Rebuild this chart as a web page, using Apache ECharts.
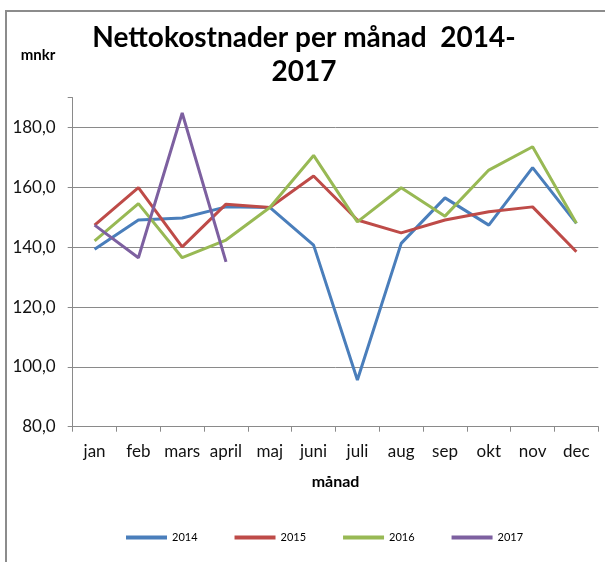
<!DOCTYPE html>
<html>
<head>
<meta charset="utf-8">
<script src="https://cdn.jsdelivr.net/npm/echarts@6/dist/echarts.min.js"></script>
<style>
html,body{margin:0;padding:0;background:#fff;}
#c{width:605px;height:562px;}
</style>
</head>
<body>
<div id="c"></div>
<script>
const months = ['jan','feb','mars','april','maj','juni','juli','aug','sep','okt','nov','dec'];
const y2014 = [139.3,149.1,149.8,153.5,153.3,140.7,95.6,141.3,156.5,147.4,166.6,148.0];
const y2015 = [147.4,159.9,140.1,154.4,153.3,163.8,149.1,144.8,149.1,151.9,153.5,138.5];
const y2016 = [142.1,154.6,136.5,142.4,153.3,170.7,148.5,159.9,150.4,165.8,173.6,148.0];
const y2017 = [147.4,136.5,184.9,135.1];
const seriesNames = ['2014','2015','2016','2017'];
const colors = ['#4A7EBB','#BE4B48','#98B954','#7D60A0'];
const FONT = 'Lato';

const chart = echarts.init(document.getElementById('c'));
const mk = (name, data, color) => ({
  name, type: 'line', data, symbol: 'none', smooth: false,
  lineStyle: {color, width: 3}, itemStyle: {color}
});
chart.setOption({
  animation: false,
  backgroundColor: '#fff',
  textStyle: {fontFamily: FONT},
  graphic: [
    {type: 'rect', shape: {x: 6, y: 11, width: 800, height: 800}, style: {fill: 'none', stroke: '#8c8c8c', lineWidth: 2}, silent: true, z: -1},
    {type: 'text', x: 304, y: 38, style: {text: 'Nettokostnader per månad  2014-', font: 'bold 28px ' + FONT, fill: '#000', textAlign: 'center', textVerticalAlign: 'middle'}},
    {type: 'text', x: 304, y: 72, style: {text: '2017', font: 'bold 28px ' + FONT, fill: '#000', textAlign: 'center', textVerticalAlign: 'middle'}},
    {type: 'text', x: 38, y: 55, style: {text: 'mnkr', font: 'bold 15px ' + FONT, fill: '#000', textAlign: 'center', textVerticalAlign: 'middle'}}
  ],
  grid: {left: 72.7, right: 6.7, top: 97.7, bottom: 135.3, containLabel: false},
  legend: {
    data: seriesNames, left: 121, top: 527, icon: 'rect', itemWidth: 41, itemHeight: 4, itemGap: 37,
    textStyle: {fontFamily: FONT, fontSize: 11, color: '#000'}
  },
  xAxis: {
    type: 'category', data: months, boundaryGap: true,
    name: 'månad', nameLocation: 'middle', nameGap: 47,
    nameTextStyle: {fontFamily: FONT, fontWeight: 'bold', fontSize: 16, color: '#000'},
    axisLine: {lineStyle: {color: '#8a8a8a', width: 1}},
    axisTick: {show: true, length: 5, lineStyle: {color: '#8a8a8a'}, alignWithLabel: false},
    axisLabel: {fontFamily: FONT, fontSize: 17, color: '#111', margin: 16, interval: 0},
    splitLine: {show: false}
  },
  yAxis: {
    type: 'value', min: 80, max: 190, interval: 20,
    axisLine: {show: true, lineStyle: {color: '#8a8a8a', width: 1}},
    axisTick: {show: true, length: 5, inside: false, lineStyle: {color: '#8a8a8a'}},
    axisLabel: {fontFamily: FONT, fontSize: 17, color: '#111', margin: 17,
      formatter: v => v > 185 ? '' : v.toFixed(1).replace('.', ',')},
    splitLine: {show: true, showMaxLine: false, lineStyle: {color: '#8a8a8a', width: 1}}
  },
  series: [
    mk(seriesNames[0], y2014, colors[0]),
    mk(seriesNames[1], y2015, colors[1]),
    mk(seriesNames[2], y2016, colors[2]),
    mk(seriesNames[3], y2017, colors[3])
  ]
});
</script>
</body>
</html>
